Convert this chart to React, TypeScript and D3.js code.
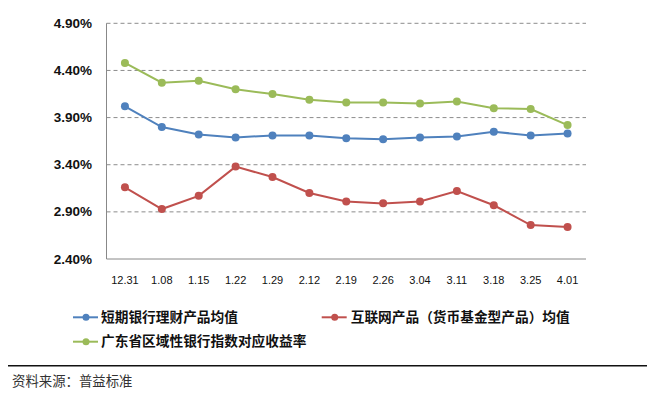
import React from "react";
import * as d3 from "d3";

const categories = ["12.31", "1.08", "1.15", "1.22", "1.29", "2.12", "2.19", "2.26", "3.04", "3.11", "3.18", "3.25", "4.01"];
const bankShortTerm = [4.02, 3.80, 3.72, 3.69, 3.71, 3.71, 3.68, 3.67, 3.69, 3.70, 3.75, 3.71, 3.73];
const internetFund = [3.16, 2.93, 3.07, 3.38, 3.27, 3.10, 3.01, 2.99, 3.01, 3.12, 2.97, 2.76, 2.74];
const guangdongIndex = [4.48, 4.27, 4.29, 4.20, 4.15, 4.09, 4.06, 4.06, 4.05, 4.07, 4.00, 3.99, 3.82];
const yTicks = [2.4, 2.9, 3.4, 3.9, 4.4, 4.9];
const seriesNames = ["短期银行理财产品均值", "互联网产品（货币基金型产品）均值", "广东省区域性银行指数对应收益率"];
const seriesColors = ["#4F81BD", "#C0504D", "#9BBB59"];
const sourceText = "资料来源：普益标准";

export default function App() {
  const W = 655, H = 398;
  const left = 106.5, right = 586, top = 23.3, bottom = 259;
  const x = d3.scaleBand<string>().domain(categories).range([left, right]);
  const y = d3.scaleLinear().domain([2.4, 4.9]).range([bottom, top]);
  const line = d3.line<number>()
    .x((_, i) => (x(categories[i]) as number) + x.bandwidth() / 2)
    .y((d) => y(d));
  const series = [bankShortTerm, internetFund, guangdongIndex];
  const latin = "'Liberation Sans', Arial, sans-serif";
  const cjk = "'Liberation Sans', 'Noto Sans CJK SC', sans-serif";

  const legendItems = [
    { lx: 73, ly: 317.3, tx: 101 },
    { lx: 321.7, ly: 317.3, tx: 350.7 },
    { lx: 73, ly: 341.7, tx: 101 },
  ];

  return (
    <svg width={W} height={H} style={{ position: "absolute", left: 0, top: 0, background: "#fff" }}>
      {yTicks.slice(1).map((t) => (
        <line key={t} x1={left} x2={right} y1={y(t)} y2={y(t)} stroke="#8c8c8c" strokeWidth={1} strokeDasharray="4,3" />
      ))}
      <line x1={left} x2={left} y1={top} y2={bottom} stroke="#888" strokeWidth={1} />
      <line x1={left} x2={right} y1={bottom} y2={bottom} stroke="#888" strokeWidth={1} />
      {yTicks.map((t) => (
        <text key={t} x={92} y={y(t)} textAnchor="end" dominantBaseline="central" fontFamily={latin} fontWeight="bold" fontSize={13.5} fill="#111">
          {t.toFixed(2) + "%"}
        </text>
      ))}
      {categories.map((c) => (
        <text key={c} x={(x(c) as number) + x.bandwidth() / 2} y={280} textAnchor="middle" dominantBaseline="central" fontFamily={latin} fontSize={11} fill="#111">
          {c}
        </text>
      ))}
      {series.map((s, si) => (
        <g key={si}>
          <path d={line(s) as string} fill="none" stroke={seriesColors[si]} strokeWidth={2} />
          {s.map((v, i) => (
            <circle key={i} cx={(x(categories[i]) as number) + x.bandwidth() / 2} cy={y(v)} r={4} fill={seriesColors[si]} />
          ))}
        </g>
      ))}
      {legendItems.map((it, i) => (
        <g key={i}>
          <line x1={it.lx} x2={it.lx + 25} y1={it.ly} y2={it.ly} stroke={seriesColors[i]} strokeWidth={2} />
          <circle cx={it.lx + 13} cy={it.ly} r={3.5} fill={seriesColors[i]} />
          <text x={it.tx} y={it.ly} dominantBaseline="central" fontFamily={cjk} fontWeight="bold" fontSize={13.7} fill="#111">
            {seriesNames[i]}
          </text>
        </g>
      ))}
      <line x1={8} x2={647} y1={365.7} y2={365.7} stroke="#111" strokeWidth={1.5} />
      <text x={12} y={381} dominantBaseline="central" fontFamily={cjk} fontSize={13.4} fill="#333">
        {sourceText}
      </text>
    </svg>
  );
}
